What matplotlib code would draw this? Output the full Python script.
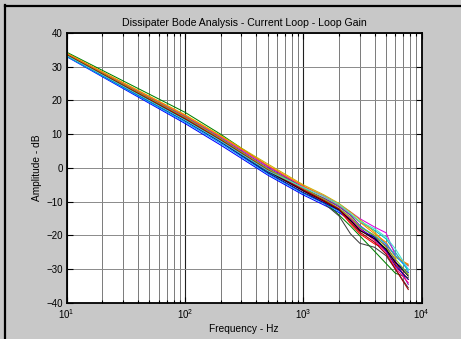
import numpy as np
import matplotlib
matplotlib.use("Agg")
import matplotlib.pyplot as plt
from matplotlib.lines import Line2D
from matplotlib.ticker import LogLocator

plt.rcParams['font.family'] = ['Liberation Sans', 'DejaVu Sans']
plt.rcParams['mathtext.fontset'] = 'custom'
plt.rcParams['mathtext.rm'] = 'Liberation Sans'

freq = [10, 100, 200, 500, 1000, 1500, 2000, 2500, 3000, 4000, 5000, 6000, 7700]

series_colors = ['#0000ff', '#008000', '#ff0000', '#00bfbf', '#e000e0', '#c8b400',
                 '#404040', '#8000c0', '#ff8000', '#00a0ff', '#0000a0', '#ff0080',
                 '#80c000', '#000000', '#a00000', '#40e0d0']

gain_db = [
    [33.0, 13.2, 6.8, -2.1, -8.0, -11.0, -13.2, -15.5, -17.8, -21.0, -24.5, -28.0, -31.0],
    [34.3, 16.5, 10.0, 0.6, -5.8, -10.0, -13.9, -17.2, -20.1, -24.7, -28.3, -31.2, -32.5],
    [33.5, 14.5, 8.2, -0.9, -6.8, -10.0, -12.5, -16.5, -19.5, -22.5, -24.0, -28.5, -33.0],
    [33.2, 14.0, 7.8, -1.2, -6.5, -9.0, -11.2, -13.8, -16.0, -18.5, -21.0, -25.0, -30.5],
    [33.8, 15.4, 9.2, 0.5, -5.5, -8.3, -10.8, -13.0, -15.0, -17.5, -19.2, -26.0, -29.0],
    [34.0, 15.8, 9.6, 1.2, -5.0, -8.0, -10.5, -13.0, -15.3, -19.0, -22.5, -26.0, -28.8],
    [33.4, 14.3, 8.0, -1.0, -6.8, -10.5, -14.2, -19.5, -22.3, -23.5, -26.0, -30.0, -35.5],
    [33.7, 15.2, 8.9, 0.1, -6.0, -9.0, -11.5, -14.0, -17.0, -20.5, -23.0, -27.5, -34.5],
    [33.9, 15.6, 9.4, 0.8, -5.3, -8.5, -11.0, -13.5, -16.0, -19.5, -22.0, -26.5, -28.5],
    [33.1, 13.6, 7.3, -1.7, -7.6, -10.5, -12.8, -15.0, -17.2, -20.0, -22.5, -26.0, -30.0],
    [33.3, 14.0, 7.7, -1.4, -7.3, -10.3, -12.5, -15.5, -18.5, -20.5, -24.5, -29.0, -33.0],
    [33.6, 14.8, 8.5, -0.4, -6.3, -9.5, -12.0, -15.0, -18.0, -21.5, -25.0, -29.5, -34.0],
    [33.6, 15.0, 8.7, -0.2, -6.0, -9.3, -12.0, -14.5, -17.5, -20.0, -23.5, -27.0, -31.5],
    [33.4, 14.4, 8.1, -0.8, -6.7, -9.8, -12.3, -15.5, -18.5, -21.0, -24.0, -28.0, -32.0],
    [33.5, 14.6, 8.3, -0.6, -6.5, -9.7, -12.2, -16.0, -19.0, -22.0, -25.5, -30.0, -36.0],
    [33.3, 14.2, 8.0, -0.8, -5.8, -8.5, -10.8, -13.5, -15.8, -18.0, -20.5, -24.0, -30.0],
]

y_ticks = [-40, -30, -20, -10, 0, 10, 20, 30, 40]

W, H = 461, 339
fig = plt.figure(figsize=(W / 100, H / 100), dpi=100, facecolor='#c8c8c8')
ax = fig.add_axes([66.7 / W, 1 - 303 / H, (421.7 - 66.7) / W, (303 - 33) / H])
ax.set_facecolor('white')

for vals, col in zip(gain_db, series_colors):
    ax.plot(freq, vals, color=col, lw=0.75)

ax.set_xscale('log')
ax.set_xlim(10, 1e4)
ax.set_ylim(-40, 40)
ax.set_yticks(y_ticks)
ax.xaxis.set_major_locator(LogLocator(base=10, numticks=10))
ax.xaxis.set_minor_locator(LogLocator(base=10, subs=np.arange(2, 10), numticks=20))

ax.grid(True, which='major', axis='y', color='#8a8a8a', lw=0.7)
ax.grid(True, which='major', axis='x', color='#202020', lw=0.8)
ax.grid(True, which='minor', axis='x', color='#7a7a7a', lw=0.7)
ax.set_axisbelow(True)

ax.tick_params(which='both', direction='in', top=True, right=True, labelsize=7, colors='black')
ax.tick_params(which='major', length=4, width=0.8, pad=3)
ax.tick_params(which='minor', length=2.5, width=0.8)
for s in ax.spines.values():
    s.set_linewidth(1.3)

ax.set_title('Dissipater Bode Analysis - Current Loop - Loop Gain', fontsize=7.6, pad=5)
ax.set_xlabel('Frequency - Hz', fontsize=7.3, labelpad=2)
ax.set_ylabel('Amplitude - dB', fontsize=7.3, labelpad=3)

# screenshot frame (top and left edges)
fig.add_artist(Line2D([5 / W, 5 / W], [0, 1 - 5 / H], color='black', lw=1.6, transform=fig.transFigure))
fig.add_artist(Line2D([5 / W, 1], [1 - 5.5 / H, 1 - 5.5 / H], color='black', lw=1.6, transform=fig.transFigure))

fig.savefig('out.png', dpi=100, facecolor=fig.get_facecolor())
